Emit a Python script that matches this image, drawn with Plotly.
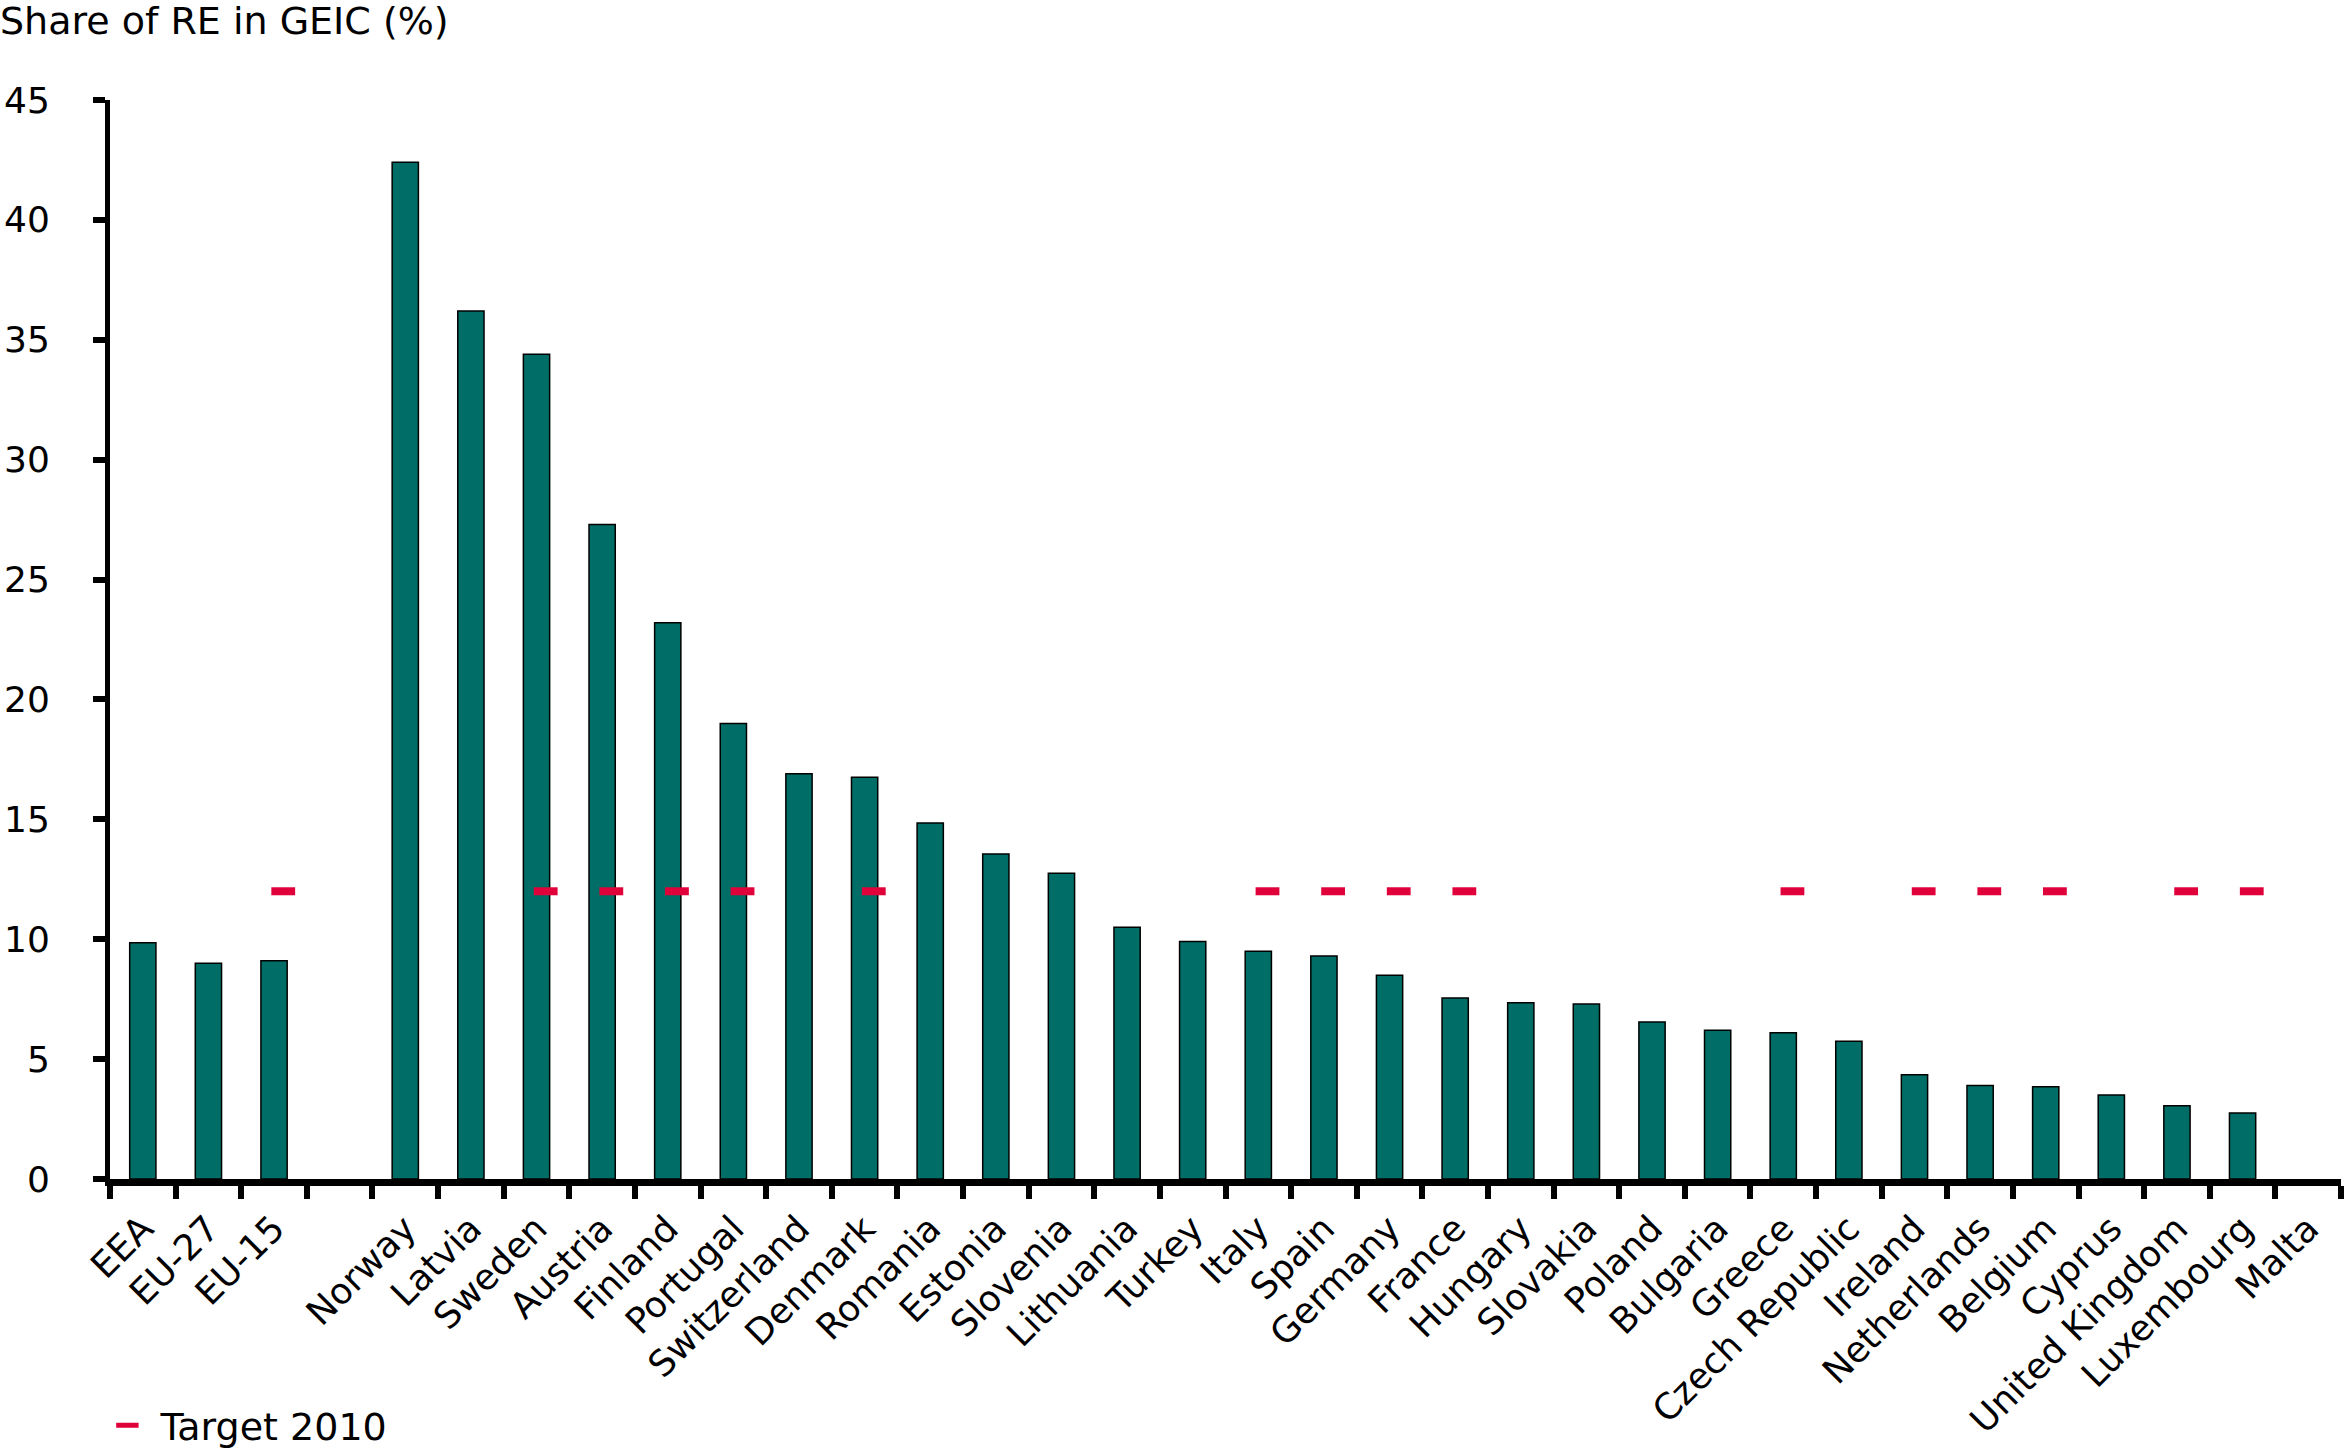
import plotly.graph_objects as go

categories = ["EEA", "EU-27", "EU-15", " ", "Norway", "Latvia", "Sweden", "Austria", "Finland",
              "Portugal", "Switzerland", "Denmark", "Romania", "Estonia", "Slovenia", "Lithuania",
              "Turkey", "Italy", "Spain", "Germany", "France", "Hungary", "Slovakia", "Poland",
              "Bulgaria", "Greece", "Czech Republic", "Ireland", "Netherlands", "Belgium",
              "Cyprus", "United Kingdom", "Luxembourg", "Malta"]
share_re = [9.85, 9.0, 9.1, None, 42.4, 36.2, 34.4, 27.3, 23.2,
            19.0, 16.9, 16.75, 14.85, 13.55, 12.75, 10.5,
            9.9, 9.5, 9.3, 8.5, 7.55, 7.35, 7.3, 6.55,
            6.2, 6.1, 5.75, 4.35, 3.9, 3.85,
            3.5, 3.05, 2.75, None]
target_2010 = [None, None, 12, None, None, None, 12, 12, 12,
               12, None, 12, None, None, None, None,
               None, 12, 12, 12, 12, None, None, None,
               None, 12, None, 12, 12, 12,
               None, 12, 12, None]

y_title = "Share of RE in GEIC (%)"
legend_name = "Target 2010"

FONT = "DejaVu Sans"
W, H = 2344, 1451
L, R, T, B = 110, 3, 100, 272

fig = go.Figure()
fig.add_trace(go.Bar(
    x=categories, y=share_re, width=0.40,
    marker=dict(color="#006E66", line=dict(color="black", width=1.5)),
    showlegend=False, hoverinfo="x+y",
))
fig.add_trace(go.Scatter(
    x=categories, y=target_2010, mode="markers", name=legend_name,
    xaxis="x2",
    marker=dict(symbol="line-ew", size=17, color="#E0003A",
                line=dict(color="#E0003A", width=8)),
))

n = len(categories)
shift = 0.14
fig.update_layout(
    template="none",
    width=W, height=H,
    margin=dict(l=L, r=R, t=T, b=B, autoexpand=False),
    paper_bgcolor="white", plot_bgcolor="white",
    font=dict(family=FONT, size=36, color="black"),
    title=dict(text=y_title, x=0, xref="container", xanchor="left",
               y=1 - 21 / H, yref="container", yanchor="middle",
               font=dict(family=FONT, size=38, color="black"), pad=dict(l=0, t=0)),
    xaxis=dict(
        type="category", categoryorder="array", categoryarray=categories,
        range=[-0.5, n - 0.5], automargin=False,
        showline=True, linecolor="black", linewidth=7,
        ticks="outside", tickson="boundaries", ticklen=13, tickwidth=6, tickcolor="black",
        tickangle=-45, showgrid=False, zeroline=False,
        tickfont=dict(family=FONT, size=36, color="black"),
        ticklabelstandoff=7,
    ),
    xaxis2=dict(
        type="category", categoryorder="array", categoryarray=categories,
        range=[-0.5 - shift, n - 0.5 - shift], overlaying="x", visible=False,
    ),
    yaxis=dict(
        range=[0, 45], dtick=5, tick0=0, automargin=False,
        showline=True, linecolor="black", linewidth=5,
        ticks="outside", ticklen=12, tickwidth=6, tickcolor="black",
        showgrid=False, zeroline=False,
        tickfont=dict(family=FONT, size=36, color="black"),
        ticklabelstandoff=36,
    ),
    legend=dict(x=-0.007, xanchor="left", y=-0.2285, yanchor="middle",
                orientation="h", bgcolor="rgba(0,0,0,0)", itemwidth=56,
                font=dict(family=FONT, size=38, color="black")),
    bargap=0.6,
)

fig.write_html(
    "out.html",
    config={"displayModeBar": False},
    post_script="document.body.style.margin='0';document.body.style.overflow='hidden';",
)
